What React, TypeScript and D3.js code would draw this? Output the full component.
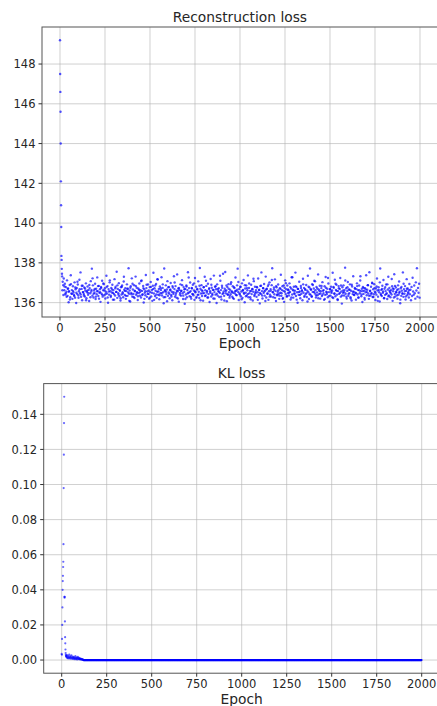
import React from 'react'
import * as d3 from 'd3'

// epochs 0..11, read one by one off the steep start
const reconEarly = [149.2, 147.5, 146.6, 145.6, 144.0, 142.1, 140.9, 139.8, 138.35, 138.15, 137.7, 137.45]

// noisy band, one value every 3 epochs starting at epoch 12
const reconBandA = [
  137.32, 137.05, 136.88, 137.21, 136.62, 136.95, 136.41, 136.78, 136.55, 137.12,
  136.34, 136.71, 136.02, 136.58, 136.89, 136.27, 137.38, 136.46, 136.63, 136.19,
  136.82, 136.51, 136.38, 137.02, 136.25, 136.67, 135.98, 136.74, 136.43, 136.91,
  136.36, 136.57, 137.15, 136.48, 137.52, 136.29, 136.69, 136.12, 136.85, 136.53,
  136.44, 136.76, 136.31, 136.6, 136.97, 136.22, 136.52, 136.81, 136.39, 136.64,
  136.08, 136.73, 136.47, 137.08, 136.56, 137.71, 136.35, 136.87, 136.26, 136.61,
  136.49, 136.95, 136.18, 136.7, 136.42, 137.27, 136.58, 136.33, 136.84, 136.5,
  136.67, 136.04, 136.79, 136.45, 137.1, 136.3, 136.62, 136.93, 136.37, 136.72,
  136.21, 136.55, 137.35, 136.46, 136.83, 135.99, 136.68, 136.4, 137.02, 136.57,
  136.28, 136.74, 136.51, 136.9, 136.15, 136.63, 136.43, 137.18, 136.36, 136.8,
  136.54, 137.55, 136.24, 136.69, 136.47, 136.98, 136.32, 136.6, 136.11, 136.77,
]
const reconBandB = [
  136.41, 136.86, 136.52, 136.27, 137.06, 136.65, 136.38, 136.73, 136.19, 136.58,
  136.92, 136.34, 136.7, 137.73, 136.45, 136.61, 136.06, 136.82, 136.49, 137.22,
  136.3, 136.66, 136.44, 136.88, 136.23, 136.57, 137.31, 136.39, 136.75, 136.53,
  136.13, 136.71, 136.48, 136.96, 136.35, 136.62, 136.26, 137.12, 136.59, 136.42,
  136.84, 136.01, 136.67, 136.5, 136.37, 137.39, 136.73, 136.29, 136.56, 136.91,
  136.44, 136.2, 136.78, 136.53, 137.04, 136.31, 136.64, 136.09, 136.85, 137.5,
  136.46, 136.72, 136.33, 136.6, 136.94, 136.24, 136.55, 137.16, 136.4, 136.69,
  136.17, 136.81, 136.47, 136.63, 137.28, 136.36, 136.74, 136.52, 135.97, 137.72,
  136.58, 136.28, 136.87, 136.43, 136.66, 137.08, 136.34, 136.51, 136.79, 136.22,
  136.62, 136.99, 136.38, 136.55, 136.12, 136.76, 136.45, 137.33, 136.68, 136.3,
  136.83, 136.49, 136.25, 137.42, 136.57, 136.71, 136.05, 136.64, 136.4, 136.92,
]
const reconBandC = [
  136.35, 136.6, 137.13, 136.47, 136.18, 136.78, 136.54, 135.94, 136.69, 136.41,
  136.86, 136.27, 136.63, 137.53, 136.5, 136.73, 136.32, 137.01, 136.58, 136.2,
  136.74, 136.44, 136.9, 136.37, 136.61, 136.14, 137.24, 136.52, 136.8, 136.29,
  136.66, 136.39, 137.07, 136.55, 136.23, 137.74, 136.7, 136.46, 136.88, 136.33,
  136.59, 136.1, 136.77, 136.48, 137.3, 136.62, 136.36, 136.84, 136.51, 136.26,
  136.95, 136.43, 136.68, 136.03, 136.57, 137.19, 136.31, 136.75, 136.45, 136.64,
  136.21, 137.36, 136.53, 136.8, 136.4, 136.67, 135.98, 136.92, 136.35, 136.58,
  136.72, 136.28, 136.49, 137.1, 136.63, 136.16, 136.85, 136.44, 137.45, 136.56,
  136.34, 136.7, 137.54, 136.47, 136.61, 136.07, 136.78, 136.39, 136.93, 136.52,
  136.25, 136.65, 136.42, 137.03, 136.57, 136.3, 136.82, 136.5, 136.19, 136.73,
  136.46, 137.26, 136.6, 136.37, 136.87, 137.71, 136.54, 136.13, 136.69, 136.41,
]
const reconBandD = [
  136.79, 136.32, 136.56, 136.97, 136.24, 136.64, 137.14, 136.45, 136.02, 136.71,
  136.5, 136.86, 136.36, 136.62, 137.37, 136.27, 136.74, 136.48, 136.59, 136.17,
  136.9, 136.43, 136.67, 136.11, 136.55, 137.08, 136.33, 136.8, 136.47, 136.63,
  136.29, 136.76, 136.52, 137.21, 136.38, 136.65, 135.96, 136.84, 136.44, 137.52,
  136.58, 136.21, 136.73, 136.49, 136.94, 136.35, 136.61, 137.31, 136.26, 136.7,
  136.46, 136.83, 136.14, 136.57, 137.02, 136.4, 136.68, 136.31, 136.88, 137.73,
  136.53, 136.27, 136.66, 136.42, 137.17, 136.6, 136.08, 136.77, 136.37, 136.55,
  136.91, 136.45, 136.19, 136.72, 136.5, 137.4, 136.34, 136.63, 136.82, 136.23,
  136.59, 136.04, 136.75, 137.12, 136.43, 136.67, 136.3, 136.86, 136.48, 136.62,
  136.36, 136.97, 136.54, 136.16, 136.71, 137.28, 136.41, 136.65, 136.25, 136.8,
  136.47, 136.6, 137.51, 136.33, 136.78, 136.52, 135.99, 136.69, 136.39, 137.05,
]
const reconBandE = [
  136.56, 136.22, 136.84, 136.45, 136.63, 136.12, 137.2, 136.5, 136.74, 136.35,
  136.68, 136.43, 136.89, 136.28, 136.6, 137.35, 136.52, 136.18, 136.76, 137.72,
  136.4, 136.65, 136.31, 136.93, 136.54, 136.09, 136.71, 137.1, 136.46, 136.62,
  136.26, 136.79, 136.51, 136.37, 137.42, 136.66, 136.44, 136.85, 136.2, 136.57,
  136.73, 136.33, 137.03, 136.6, 136.48, 136.14, 136.82, 136.39, 137.29, 136.55,
  136.42, 136.7, 136.27, 136.96, 136.53, 136.05, 136.67, 136.35, 136.8, 136.49,
  136.61, 137.5, 136.23, 136.75, 136.46, 137.15, 136.32, 136.64, 136.9, 136.4,
  136.17, 136.58, 136.83, 136.44, 136.69, 137.24, 136.3, 136.56, 135.95, 136.77,
  136.5, 136.87, 136.36, 136.63, 137.76, 136.45, 136.72, 136.21, 136.59, 137.04,
  136.34, 136.66, 136.48, 136.92, 136.27, 136.6, 136.11, 136.81, 136.43, 137.33,
  136.55, 136.38, 136.74, 136.5, 136.15, 136.68, 136.97, 136.41, 136.63, 136.26,
]
const reconBandF = [
  136.86, 136.47, 137.11, 136.57, 136.32, 136.7, 136.03, 136.79, 136.44, 136.6,
  136.24, 136.73, 136.52, 137.38, 136.37, 136.65, 136.88, 136.46, 136.19, 137.53,
  136.58, 136.35, 136.8, 136.49, 137.0, 136.28, 136.67, 136.42, 136.93, 136.55,
  136.13, 136.71, 136.4, 137.21, 136.61, 136.3, 136.77, 136.52, 136.06, 137.72,
  136.45, 136.64, 136.33, 136.85, 136.5, 137.14, 136.22, 136.7, 136.39, 136.58,
  136.91, 136.47, 136.18, 136.66, 137.3, 136.36, 136.74, 136.53, 136.27, 136.62,
  136.41, 136.82, 136.09, 136.57, 136.69, 137.43, 136.44, 136.31, 136.76, 136.51,
  136.63, 136.2, 136.87, 136.4, 137.06, 136.55, 135.97, 136.72, 136.34, 136.6,
  136.48, 137.52, 136.29, 136.68, 136.45, 136.83, 136.16, 136.59, 137.18, 136.37,
  136.71, 136.52, 136.26, 136.94, 136.42, 136.65, 136.12, 136.79, 136.33, 137.25,
  136.56, 136.39, 136.86, 136.47, 136.2, 137.02, 136.61, 137.73, 136.3, 136.74,
  136.5, 136.95, 136.25,
]
const reconBand = [...reconBandA, ...reconBandB, ...reconBandC, ...reconBandD, ...reconBandE, ...reconBandF]
const bandStart = 12
const bandStep = 3

// in-between epochs, one value every 6 epochs starting at epoch 13
const reconMidA = [
  136.62, 136.38, 136.81, 136.47, 136.29, 136.7, 136.55, 136.16, 136.93, 136.44,
  136.58, 136.33, 136.76, 136.5, 137.05, 136.24, 136.67, 136.41, 136.85, 136.53,
  136.36, 136.71, 136.12, 136.6, 136.48, 136.89, 136.27, 136.64, 137.22, 136.45,
  136.69, 136.3, 136.57, 136.83, 136.2, 136.52, 136.74, 136.39, 136.97, 136.61,
  136.43, 136.78, 136.26, 136.56, 137.12, 136.35, 136.66, 136.49, 136.15, 136.72,
  136.54, 136.87, 136.4, 136.63, 136.22, 136.8, 136.46, 137.3, 136.59, 136.34,
  136.7, 136.51, 136.09, 136.75, 136.42, 136.95, 136.28, 136.6, 136.84, 136.47,
  136.32, 136.65, 136.53, 137.08, 136.38, 136.73, 136.19, 136.57, 136.9, 136.44,
]
const reconMidB = [
  136.61, 136.25, 136.79, 136.5, 136.68, 136.14, 136.86, 136.41, 137.18, 136.56,
  136.37, 136.72, 136.48, 136.92, 136.27, 136.64, 136.55, 136.07, 136.77, 136.45,
  136.66, 136.31, 136.83, 136.52, 137.01, 136.39, 136.6, 136.21, 136.74, 136.49,
  136.58, 136.88, 136.35, 136.67, 136.18, 136.81, 136.46, 137.26, 136.53, 136.29,
  136.71, 136.43, 136.97, 136.56, 136.24, 136.69, 136.4, 136.85, 136.12, 136.62,
  136.47, 136.78, 136.33, 137.1, 136.59, 136.26, 136.73, 136.5, 136.9, 136.38,
  136.64, 136.2, 136.82, 136.45, 136.68, 136.55, 137.35, 136.3, 136.75, 136.48,
  136.11, 136.6, 136.86, 136.42, 136.7, 136.34, 136.94, 136.52, 136.23, 136.77,
]
const reconMidC = [
  136.57, 136.39, 136.65, 137.04, 136.46, 136.8, 136.17, 136.61, 136.5, 136.88,
  136.32, 136.73, 136.44, 136.96, 136.27, 136.58, 136.69, 137.2, 136.4, 136.54,
  136.79, 136.14, 136.63, 136.49, 136.85, 136.36, 136.72, 136.56, 136.08, 136.67,
  136.45, 136.91, 136.3, 136.6, 137.14, 136.52, 136.76, 136.24, 136.83, 136.41,
  136.62, 136.35, 136.7, 136.47, 136.19, 136.87, 136.55, 136.98, 136.33, 136.66,
  136.5, 136.78, 136.26, 137.28, 136.61, 136.43, 136.82, 136.15, 136.69, 136.53,
  136.38, 136.74, 136.57, 136.92, 136.29, 136.64, 136.48, 136.06, 136.8, 136.42,
  136.67, 136.31, 136.89, 136.54, 137.07, 136.37, 136.71, 136.22, 136.6, 136.46,
]
const reconMidD = [
  136.84, 136.4, 136.63, 136.18, 136.75, 136.51, 137.24, 136.34, 136.68, 136.56,
  136.27, 136.79, 136.45, 136.95, 136.59, 136.13, 136.72, 136.49, 136.86, 136.36,
  136.61, 136.52, 137.11, 136.3, 136.77, 136.44, 136.65, 136.21, 136.9, 136.55,
  136.39, 136.7, 136.47, 136.83, 136.25, 136.62, 137.33, 136.41, 136.58, 136.74,
  136.16, 136.66, 136.53, 136.88, 136.35, 136.6, 136.45, 136.97, 136.28, 136.73,
  136.5, 136.81, 136.09, 136.64, 137.02, 136.38, 136.69, 136.56, 136.23, 136.78,
  136.43, 136.92, 136.32, 136.6, 136.48, 137.19, 136.71, 136.26, 136.84, 136.54,
  136.37, 136.67, 136.5, 136.15, 136.79, 136.44, 136.95, 136.58, 136.31, 136.7,
  136.46, 136.62,
]
const reconMid = [...reconMidA, ...reconMidB, ...reconMidC, ...reconMidD]
const midStart = 13
const midStep = 6

// KL loss, epochs 0..25 one by one
const klEarly = [
  0.0035, 0.003, 0.012, 0.02, 0.03, 0.04, 0.045, 0.048, 0.053, 0.056,
  0.066, 0.098, 0.117, 0.135, 0.15, 0.036, 0.0355, 0.036, 0.022, 0.013,
  0.0095, 0.006, 0.004, 0.003, 0.0025, 0.002,
]
// small tail, every 2 epochs from 26 to 120
const klTail = [
  0.0022, 0.0015, 0.0028, 0.0012, 0.0019, 0.0009, 0.0024, 0.0014, 0.0031, 0.0011,
  0.0018, 0.0008, 0.0021, 0.0013, 0.0027, 0.001, 0.0016, 0.0006, 0.002, 0.0012,
  0.0009, 0.0017, 0.0005, 0.0014, 0.0008, 0.0023, 0.0011, 0.0004, 0.0015, 0.0007,
  0.0012, 0.0003, 0.0018, 0.0009, 0.0006, 0.0013, 0.0004, 0.001, 0.0005, 0.0008,
  0.0003, 0.0007, 0.0002, 0.0005, 0.0003, 0.0004, 0.0002, 0.0001,
]
const klTailStart = 26
const klTailStep = 2
// from epoch 121 on the KL loss sits at zero
const klFlatStart = 121
const klFlatValue = 0
const lastEpoch = 1999

const epochTicks = [0, 250, 500, 750, 1000, 1250, 1500, 1750, 2000]
const reconYTicks = [136, 138, 140, 142, 144, 146, 148]
const klYTicks = [0, 0.02, 0.04, 0.06, 0.08, 0.1, 0.12, 0.14]

type Pt = { x: number; y: number }

const reconPts: Pt[] = [
  ...reconEarly.map((v, i) => ({ x: i, y: v })),
  ...reconBand.map((v, i) => ({ x: bandStart + i * bandStep, y: v })),
  ...reconMid.map((v, i) => ({ x: midStart + i * midStep, y: v })),
]
const klPts: Pt[] = [
  ...klEarly.map((v, i) => ({ x: i, y: v })),
  ...klTail.map((v, i) => ({ x: klTailStart + i * klTailStep, y: v })),
  ...d3.range(klFlatStart, lastEpoch + 1).map((e) => ({ x: e, y: klFlatValue })),
]

const FONT = 'DejaVu Sans, sans-serif'

function padded(ext: [number, number]): [number, number] {
  const m = (ext[1] - ext[0]) * 0.05
  return [ext[0] - m, ext[1] + m]
}

function Panel(props: {
  pts: Pt[]
  title: string
  yTicks: number[]
  fmt: (v: number) => string
  left: number
  top: number
  bottom: number
  dotR: number
  dotOpacity: number
}) {
  const { pts, title, yTicks, fmt, left, top, bottom, dotR, dotOpacity } = props
  const x = d3.scaleLinear().domain(padded([0, lastEpoch])).range([left, left + 395.8])
  const y = d3.scaleLinear().domain(padded(d3.extent(pts, (d) => d.y) as [number, number])).range([bottom, top])
  const right = left + 395.8
  return (
    <g>
      {epochTicks.map((t) => (
        <line key={'gx' + t} x1={x(t)} x2={x(t)} y1={top} y2={bottom} stroke="#b0b0b0" strokeOpacity={0.6} strokeWidth={1} />
      ))}
      {yTicks.map((t) => (
        <line key={'gy' + t} x1={left} x2={right} y1={y(t)} y2={y(t)} stroke="#b0b0b0" strokeOpacity={0.6} strokeWidth={1} />
      ))}
      {pts.map((p, i) => (
        <circle key={i} cx={x(p.x)} cy={y(p.y)} r={dotR} fill="blue" fillOpacity={dotOpacity} />
      ))}
      <rect x={left} y={top} width={right - left} height={bottom - top} fill="none" stroke="#555" strokeWidth={1} />
      {epochTicks.map((t) => (
        <g key={'tx' + t}>
          <line x1={x(t)} x2={x(t)} y1={bottom} y2={bottom + 3.5} stroke="#333" />
          <text x={x(t)} y={bottom + 14.5} textAnchor="middle" fontSize={11.5} fill="#262626" fontFamily={FONT}>
            {t}
          </text>
        </g>
      ))}
      {yTicks.map((t) => (
        <g key={'ty' + t}>
          <line x1={left - 3.5} x2={left} y1={y(t)} y2={y(t)} stroke="#333" />
          <text x={left - 6.5} y={y(t) + 4.2} textAnchor="end" fontSize={11.5} fill="#262626" fontFamily={FONT}>
            {fmt(t)}
          </text>
        </g>
      ))}
      <text x={(left + right) / 2} y={top - 5.5} textAnchor="middle" fontSize={13.8} fill="#262626" fontFamily={FONT}>
        {title}
      </text>
      <text x={(left + right) / 2} y={bottom + 31} textAnchor="middle" fontSize={13.8} fill="#262626" fontFamily={FONT}>
        Epoch
      </text>
    </g>
  )
}

export default function App() {
  return (
    <svg width={437} height={706} style={{ position: 'absolute', left: 0, top: 0, background: 'white' }}>
      <Panel pts={reconPts} title="Reconstruction loss" yTicks={reconYTicks} fmt={d3.format('d')} left={42} top={27} bottom={317} dotR={1.2} dotOpacity={0.68} />
      <Panel pts={klPts} title="KL loss" yTicks={klYTicks} fmt={d3.format('.2f')} left={43.7} top={383.6} bottom={673.2} dotR={1.1} dotOpacity={0.6} />
    </svg>
  )
}
